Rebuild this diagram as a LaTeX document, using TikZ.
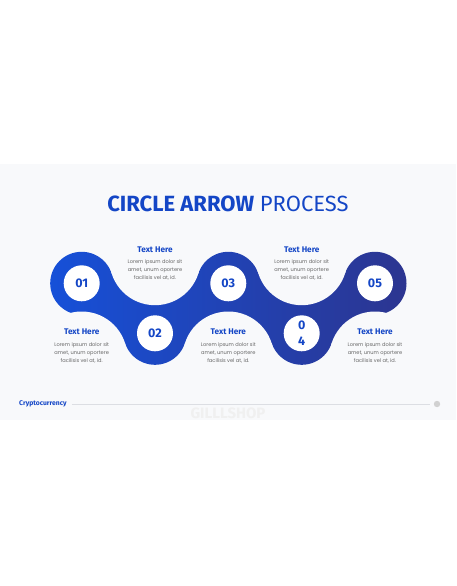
\documentclass[tikz,border=0pt]{standalone}
\usepackage{fontspec}
\setmainfont{Fira Sans}
\newfontfamily\bodyfont{Poppins}
\usetikzlibrary{positioning}
\definecolor{slidebg}{HTML}{F8F9FB}
\definecolor{chainleft}{HTML}{1650D8}
\definecolor{chainright}{HTML}{2C3590}
\definecolor{titleblue}{HTML}{1446C6}
\definecolor{loremgray}{HTML}{666666}
\definecolor{footgray}{HTML}{DCDEE3}

\begin{document}
\begin{tikzpicture}[
		% GLOBAL CFG
		x=1pt, y=1pt,
		% Styles
		num/.style={% white disk with the step number
			circle,
			fill=white,
			minimum size=36pt,
			inner sep=0pt,
			align=center,
			text=titleblue,
			font=\bfseries\fontsize{12.5}{16}\selectfont,
		},
		head/.style={% small blue heading
			text=titleblue,
			font=\bfseries\fontsize{8.2}{9}\selectfont,
		},
		lorem/.style={% grey body text
			align=center,
			text=loremgray,
			font=\bodyfont\fontsize{5.1}{8}\selectfont,
		},
		gap/.style={% background disk that cuts the bends
			fill=slidebg,
		},
		]
		% page and slide
		\useasboundingbox (0,0) rectangle (456,-586);
		\fill[white] (0,0) rectangle (456,-586);
		\fill[slidebg] (0,-164) rectangle (456,-420);
		
		% centres of the big circles named c#
		\coordinate (c1) at (81.7,-283.3);
		\coordinate (c2) at (155,-333.3);
		\coordinate (c3) at (228.3,-283.3);
		\coordinate (c4) at (301.7,-333.3);
		\coordinate (c5) at (375,-283.3);
		% centres of the bends, upper fu# and lower fl#
		\coordinate (fu1) at (155,-259.7);
		\coordinate (fu2) at (301.7,-259.7);
		\coordinate (fl1) at (81.7,-357);
		\coordinate (fl3) at (228.3,-357);
		\coordinate (fl5) at (375,-357);
		
		% the chain
		\path[left color=chainleft, right color=chainright]
			(c1) circle (31.5) (c2) circle (31.5) (c3) circle (31.5)
			(c4) circle (31.5) (c5) circle (31.5)
			(c1) -- (fl1) -- (c2) -- (fl3) -- (c4) -- (fl5) -- (c5)
			-- (fu2) -- (c3) -- (fu1) -- cycle;
		\foreach \f in {fu1,fu2,fl1,fl3,fl5}
			\fill[gap] (\f) circle (45.5);
		
		% numbers
		\node[num] (n1) at (c1) {01};
		\node[num] (n2) at (c2) {02};
		\node[num] (n3) at (c3) {03};
		\node[num] (n4) at (c4) {0\\4};
		\node[num] (n5) at (c5) {05};
		
		% title
		\node[text=titleblue, font=\fontsize{22}{26}\selectfont] (title) at (228,-204)
			{\textbf{CIRCLE ARROW} PROCESS};
		
		% texts, upper row
		\node[head] (h2) at (155,-250) {Text Here};
		\node[lorem] (l2) at (155,-270) {Lorem ipsum dolor sit\\amet, unum oportere\\facilisis vel at, id.};
		\node[head] (h4) at (301.7,-250) {Text Here};
		\node[lorem] (l4) at (301.7,-270) {Lorem ipsum dolor sit\\amet, unum oportere\\facilisis vel at, id.};
		% texts, lower row
		\node[head] (h1) at (81.7,-332) {Text Here};
		\node[lorem] (l1) at (81.7,-353) {Lorem ipsum dolor sit\\amet, unum oportere\\facilisis vel at, id.};
		\node[head] (h3) at (228.3,-332) {Text Here};
		\node[lorem] (l3) at (228.3,-353) {Lorem ipsum dolor sit\\amet, unum oportere\\facilisis vel at, id.};
		\node[head] (h5) at (375,-332) {Text Here};
		\node[lorem] (l5) at (375,-353) {Lorem ipsum dolor sit\\amet, unum oportere\\facilisis vel at, id.};
		
		% footer
		\node[anchor=west, inner sep=1pt, text=titleblue, font=\bfseries\fontsize{6.8}{7}\selectfont] (foot) at (18,-404) {Cryptocurrency};
		\coordinate (dot) at (437,-404);
		\draw[footgray, line width=0.6pt, shorten <=4pt, shorten >=7pt] (foot.east) -- (dot);
		\fill[black!18] (dot) circle (3.2);
		\node[text=black!6, font=\bfseries\fontsize{15}{15}\selectfont] (mark) at (228,-413) {GILLLSHOP};
		
	\end{tikzpicture}
\end{document}
